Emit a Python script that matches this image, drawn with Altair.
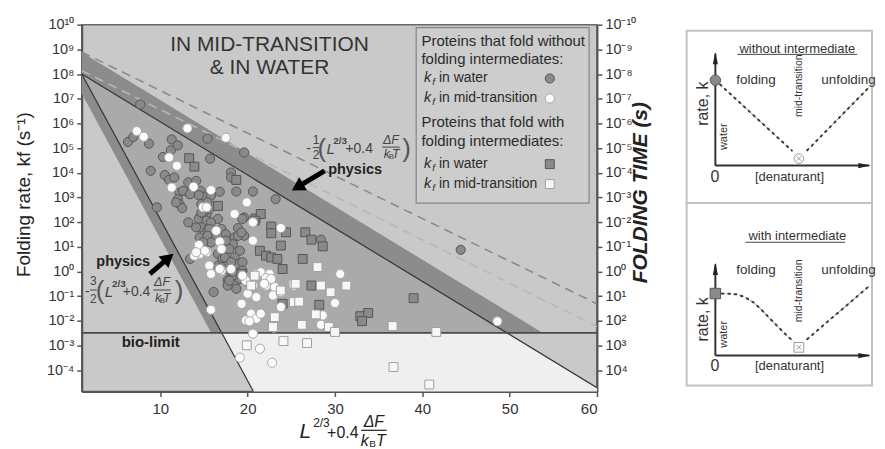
import altair as alt
import pandas as pd

FONT = "Liberation Sans"
INK = "#2b2b2b"

# ------------------------------------------------------------------
# Scatter data: x = L^(2/3) + 0.4*dF/kBT ,  e = log10(kf / s^-1)
# ------------------------------------------------------------------
# k_f in water, no intermediates (grey circles)
gc_x = [7.7, 15.4, 19.6, 6.3, 6.9, 8.7, 11.3, 11.2, 12.0, 10.3, 15.7, 8.9, 10.5, 11.0, 11.6, 13.2, 14.1, 18.1, 18.1, 12.2,
        13.2, 14.6, 15.0, 14.4, 16.8, 18.7, 20.6, 23.2, 12.0, 12.2, 12.5, 15.3, 9.6, 19.6, 14.5, 15.3, 13.2, 14.4, 14.9, 15.3,
        14.7, 15.4, 16.6, 17.0, 16.0, 14.5, 15.1, 14.7, 16.3, 17.5, 18.5, 18.9, 19.4, 19.6, 18.3, 17.9, 19.1, 16.6, 17.1, 18.5,
        18.7, 13.4, 16.6, 17.9, 18.3, 17.7, 18.5, 18.7, 16.1, 17.7, 28.4, 44.4, 17.5, 18.9, 19.3, 17.4, 18.1, 17.0, 19.4, 19.4,
        19.1, 17.9, 20.0, 12.6, 13.4, 15.8, 11.8, 14.7, 15.4, 14.7, 15.6, 15.8, 14.1, 15.6, 15.4, 15.8, 14.9]
gc_e = [6.77, 5.38, 4.82, 5.25, 5.45, 5.18, 5.35, 4.91, 5.11, 4.64, 4.57, 4.08, 3.91, 3.71, 3.81, 3.61, 3.67, 4.01, 3.81, 3.20,
        3.20, 3.27, 3.03, 3.09, 3.23, 3.24, 3.24, 2.93, 2.93, 2.73, 2.57, 2.76, 2.60, 2.19, 2.19, 2.33, 1.99, 2.13, 2.36, 2.06,
        1.79, 1.68, 2.13, 1.72, 1.41, 1.38, 1.18, 0.98, 1.38, 1.51, 1.38, 1.76, 2.13, 1.45, 1.11, 0.91, 0.84, 0.71, 0.51, 0.57,
        0.31, 0.51, 0.24, 0.04, -0.02, -0.36, -0.50, -0.70, -0.83, -0.57, 1.29, 0.88, 1.25, 1.45, 1.58, 0.57, 0.38, 0.18, 0.38, 0.04,
        -0.30, -0.37, -0.43, 3.27, 3.13, 3.07, 2.80, 2.73, 2.80, 2.39, 2.53, 1.99, 1.79, 1.72, 1.45, 1.18, 1.18]
# k_f in mid-transition, no intermediates (white circles)
wc_x = [7.3, 8.1, 13.1, 17.5, 11.0, 11.9, 11.3, 13.8, 15.8, 19.9, 14.9, 18.5, 20.6, 23.8, 20.6, 14.5, 15.3, 13.9, 15.6, 15.8,
        17.0, 19.8, 20.0, 21.0, 19.3, 15.8, 20.4, 19.8, 21.0, 21.5, 23.0, 20.6, 21.4, 19.1, 22.8, 22.1, 23.1, 22.9, 25.2, 23.8,
        20.2, 23.8, 28.4, 29.3, 14.4, 15.1, 14.1, 16.4, 16.8, 17.0, 16.8, 18.1, 19.4, 21.0, 21.5, 22.5, 22.1, 22.7, 21.9, 20.6,
        30.6, 30.0, 48.6, 25.3, 28.6, 15.3]
wc_e = [5.69, 5.46, 5.80, 5.42, 4.62, 4.28, 3.40, 3.43, 3.30, 2.80, 2.60, 2.33, 1.99, 1.76, 1.25, 0.71, 0.78, 0.64, 0.24, -0.10,
        0.04, -0.37, -0.90, -1.04, -1.31, -1.55, -1.71, -1.98, -1.91, -1.71, -2.28, -2.52, -3.13, -3.49, -3.70, -0.57, -0.63, -0.97, -0.50, -1.44,
        -2.02, -0.84, -2.16, -2.21, 1.07, 0.84, 0.78, 1.65, 1.21, 0.91, 0.10, 0.10, -0.17, -0.10, -0.03, -0.10, -0.27, -0.30, -0.50, -0.57,
        -0.10, -1.28, -2.02, -0.57, -1.78, 2.60]
# k_f in water, with intermediates (grey squares)
gs_x = [13.3, 13.9, 18.7, 16.6, 20.9, 21.5, 22.7, 22.7, 24.4, 21.4, 22.1, 23.8, 22.7, 23.4, 24.0, 24.0, 19.3, 20.8, 26.6, 27.3,
        28.6, 26.3, 27.3, 28.2, 39.0, 32.9, 33.8, 33.1]
gs_e = [4.59, 4.25, 3.71, 2.66, 2.15, 2.33, 1.82, 1.55, 1.59, 0.84, 0.64, 1.05, 0.57, 0.51, 0.10, -1.31, -0.10, 2.06, 1.59, 1.29,
        1.02, 0.51, -0.57, -1.35, -1.08, -1.81, -1.68, -2.01]
# k_f in mid-transition, with intermediates (white squares)
ws_x = [20.8, 20.4, 23.8, 25.3, 23.1, 22.9, 19.9, 24.1, 26.8, 26.2, 25.9, 27.8, 28.0, 25.5, 28.4, 31.3, 29.5, 29.3, 30.0, 36.6,
        41.6, 36.7, 40.8]
ws_e = [-0.17, -0.57, -0.77, -1.24, -1.85, -2.25, -2.99, -2.82, -2.90, -2.16, -1.22, -1.74, 0.18, -0.50, -0.57, -0.57, -0.84, -2.25, -2.45, -2.21,
        -2.45, -3.87, -4.58]

# ------------------------------------------------------------------
# Guide lines and shaded zones (x, log10 kf)
# ------------------------------------------------------------------
X_MIN, X_MAX = 1, 60
E_MIN, E_MAX = -4.86, 10
upper_x, upper_e = [1, 60], [8.0, -4.71]          # -1/2(...) line
steep_x, steep_e = [1, 20.66], [8.0, -4.86]        # -3/2(...) line
bio_x, bio_e = [1, 60], [-2.49, -2.49]             # bio-limit
dash1_x, dash1_e = [1, 60], [8.89, -1.31]
dash2_x, dash2_e = [1, 60], [8.14, -2.23]
# zones: vertices x, lower e, upper e
zone_tri = ([1, 17.04, 49.7], [8.0, -2.49, -2.49], [8.0, 4.55, -2.49])
zone_low = ([17.04, 20.66, 49.7, 60], [-2.49, -4.86, -4.86, -4.86], [-2.49, -2.49, -2.49, -4.71])
zone_ub = ([1, 49.7, 53.8], [8.0, -2.49, -2.49], [8.88, -1.61, -2.49])
zone_sb = ([1, 15.83, 17.04], [7.21, -2.49, -2.49], [8.0, -1.70, -2.49])

# ------------------------------------------------------------------
xs = alt.Scale(domain=[X_MIN, X_MAX], nice=False, zero=False)
ys = alt.Scale(type="log", domain=[10 ** E_MIN, 10 ** E_MAX], nice=False)

SUP = "['⁰','¹','²','³','⁴','⁵','⁶','⁷','⁸','⁹']"


def pow_label(ex):
    return ("'10' + ((" + ex + ") < 0 ? '⁻' : '') + (abs(" + ex + ") >= 10 ? '¹' + " + SUP +
            "[abs(" + ex + ") - 10] : " + SUP + "[abs(" + ex + ")])")


EXP = "round(log(datum.value) / LN10)"
y_ticks = [10.0 ** i for i in range(-4, 11)]
common = dict(domainColor="#555", domainWidth=2, tickColor="#555", tickWidth=1.5, tickSize=5,
              labelFont=FONT, labelColor="#333", grid=False, titleFont=FONT, titleColor="#222")
left_axis = alt.Axis(values=y_ticks, labelExpr=pow_label(EXP), labelFontSize=14.5, labelPadding=3,
                     title="Folding rate, kf (s⁻¹)", titleFontSize=19, titleFontWeight="normal",
                     titlePadding=13, titleY=170, **common)
right_axis = alt.Axis(orient="right", values=y_ticks, labelExpr=pow_label("-" + EXP), labelFontSize=14.5,
                      labelPadding=3, title="FOLDING TIME (s)", titleFontSize=21, titleFontWeight="bold",
                      titleFontStyle="italic", titleAngle=270, titlePadding=15, titleY=168, **common)
x_axis = alt.Axis(values=[10, 20, 30, 40, 50, 60], labelFontSize=15, labelPadding=5, title=None, **common)

X = alt.X("x:Q", scale=xs, axis=x_axis)
YN = alt.Y("y:Q", scale=ys, axis=None)
YL = alt.Y("y:Q", scale=ys, axis=left_axis)
YR = alt.Y("y:Q", scale=ys, axis=right_axis)


def kdf(vx, ve):
    return pd.DataFrame({"x": vx, "y": [10 ** v for v in ve]})


def zdf(vx, lo, hi):
    return pd.DataFrame({"x": vx, "y": [10 ** v for v in lo], "y2": [10 ** v for v in hi]})


layers = []
layers.append(alt.Chart(zdf(*zone_tri)).mark_area(orient="vertical", color="#aaaaaa").encode(x=X, y=YL, y2="y2:Q"))
for z, col in [(zone_low, "#efefef"), (zone_ub, "#8c8c8c"), (zone_sb, "#8c8c8c")]:
    layers.append(alt.Chart(zdf(*z)).mark_area(orient="vertical", color=col).encode(x=X, y=YN, y2="y2:Q"))

layers.append(alt.Chart(kdf(dash1_x, dash1_e)).mark_line(color="#8a8a8a", strokeWidth=1.6, strokeDash=[9, 6], clip=True).encode(x=X, y=YN))
layers.append(alt.Chart(kdf(dash2_x, dash2_e)).mark_line(color="#b7b7b7", strokeWidth=1.6, strokeDash=[9, 6], clip=True).encode(x=X, y=YN))
layers.append(alt.Chart(kdf(upper_x, upper_e)).mark_line(color="#333", strokeWidth=1.2, clip=True).encode(x=X, y=YN))
layers.append(alt.Chart(kdf(steep_x, steep_e)).mark_line(color="#333", strokeWidth=1.2, clip=True).encode(x=X, y=YN))
layers.append(alt.Chart(kdf(bio_x, bio_e)).mark_line(color="#4a4a4a", strokeWidth=1.8, clip=True).encode(x=X, y=YN))

# legend frame
leg_box = pd.DataFrame({"x": [39.3], "x2": [59.1], "y": [10 ** 2.77], "y2": [10 ** 9.88]})
layers.append(alt.Chart(leg_box).mark_rect(fill="#cdcdcd", stroke="#858585", strokeWidth=1.2).encode(x=X, x2="x2:Q", y=YN, y2="y2:Q"))

STYLE = {
    "gc": dict(shape="circle", size=85, fill="#8a8a8a", stroke="#565656"),
    "gs": dict(shape="square", size=80, fill="#8a8a8a", stroke="#565656"),
    "wc": dict(shape="circle", size=85, fill="#fbfbfb", stroke="#a9a9a9"),
    "ws": dict(shape="square", size=80, fill="#f7f7f7", stroke="#a0a0a0"),
}


def pts(df, key):
    st = STYLE[key]
    return alt.Chart(df).mark_point(filled=True, opacity=1, strokeWidth=1, **st).encode(x=X, y=YN)


layers += [pts(kdf(gc_x, gc_e), "gc"), pts(kdf(gs_x, gs_e), "gs"), pts(kdf(wc_x, wc_e), "wc"), pts(kdf(ws_x, ws_e), "ws")]

# legend symbols
LEG_SYM_X = 54.6
layers += [pts(kdf([LEG_SYM_X], [7.82]), "gc"), pts(kdf([LEG_SYM_X], [7.01]), "wc"),
           pts(kdf([LEG_SYM_X], [4.35]), "gs"), pts(kdf([LEG_SYM_X], [3.54]), "ws")]


def tdf(rows):
    return pd.DataFrame([{"x": r[0], "y": 10 ** r[1], "t": r[2]} for r in rows])


def texts(rows, **kw):
    base = dict(font=FONT, color=INK, align="center", baseline="middle", fontSize=14)
    base.update(kw)
    return alt.Chart(tdf(rows)).mark_text(**base).encode(x=X, y=YN, text="t:N")


# headline
layers.append(texts([(22.5, 9.19, "IN MID-TRANSITION"), (22.5, 8.26, "& IN WATER")], fontSize=21, color="#333"))
# legend texts
layers.append(texts([(39.9, 9.35, "Proteins that fold without"), (39.9, 8.59, "folding intermediates:"),
                     (39.9, 6.04, "Proteins that fold with"), (39.9, 5.27, "folding intermediates:")],
                    align="left", fontSize=15))
leg_e = [7.82, 7.01, 4.35, 3.54]
layers.append(texts([(40.6, e, "k") for e in leg_e], fontSize=14.5, fontStyle="italic"))
layers.append(texts([(41.3, e, "f") for e in leg_e], fontSize=10, fontStyle="italic", dy=4))
layers.append(texts([(41.9, leg_e[0], "in water"), (41.9, leg_e[1], "in mid-transition"),
                     (41.9, leg_e[2], "in water"), (41.9, leg_e[3], "in mid-transition")], align="left", fontSize=14))
# bold labels
layers.append(texts([(32.3, 4.12, "physics"), (5.75, 0.38, "physics")], fontSize=14.5, fontWeight="bold", color="#222"))
layers.append(texts([(8.9, -2.86, "bio-limit")], fontSize=15, fontWeight="bold", color="#222"))
# formulas  -1/2(...)  and  -3/2(...)
layers.append(texts([(26.98, 4.97, "-"), (32.77, 4.97, "+0.4"), (1.64, -0.84, "-"), (7.28, -0.82, "+0.4")], fontSize=14, color="#444"))
layers.append(texts([(27.83, 5.32, "1"), (27.83, 4.72, "2"), (2.32, -0.39, "3"), (2.32, -1.11, "2")], fontSize=12, color="#444"))
layers.append(texts([(28.5, 4.97, "("), (38.2, 4.97, ")"), (3.1, -0.78, "("), (12.15, -0.78, ")")], fontSize=26, color="#555", fontWeight="lighter"))
layers.append(texts([(29.5, 4.97, "L"), (4.1, -0.84, "L")], fontSize=15, fontStyle="italic", color="#444"))
layers.append(texts([(30.6, 5.3, "2/3"), (5.25, -0.5, "2/3")], fontSize=10, fontWeight="bold", color="#444"))
layers.append(texts([(36.4, 5.32, "ΔF"), (10.2, -0.43, "ΔF")], fontSize=12.5, fontStyle="italic", color="#444"))
layers.append(texts([(35.95, 4.76, "k"), (36.95, 4.76, "T"), (9.75, -1.07, "k"), (10.75, -1.07, "T")], fontSize=12.5, fontStyle="italic", color="#444"))
layers.append(texts([(36.45, 4.76, "B"), (10.25, -1.07, "B")], fontSize=8, color="#444", dy=3))
frac_bars = pd.DataFrame({"x": [27.45, 35.4, 1.95, 9.2], "x2": [28.2, 37.4, 2.7, 11.2],
                          "y": [10 ** 5.02, 10 ** 5.04, 10 ** -0.75, 10 ** -0.75]})
layers.append(alt.Chart(frac_bars).mark_rule(color="#444", strokeWidth=1).encode(x=X, x2="x2:Q", y=YN))

# arrows
arr = pd.DataFrame({"x": [28.8, 8.8], "y": [10 ** 4.08, 10 ** -0.10], "x2": [25.7, 10.93], "y2": [10 ** 3.42, 10 ** 0.55],
                    "a": [239, 49]})
layers.append(alt.Chart(arr).mark_rule(color="black", strokeWidth=5).encode(x=X, y=YN, x2="x2:Q", y2="y2:Q"))
layers.append(alt.Chart(arr).mark_point(shape="triangle-up", filled=True, color="black", size=230, opacity=1)
              .encode(x=alt.X("x2:Q", scale=xs, axis=x_axis), y=alt.Y("y2:Q", scale=ys, axis=None),
                      angle=alt.Angle("a:Q", scale=None)))


# x-axis title built from text pieces (below plot)
def xt(rows, **kw):
    base = dict(font=FONT, color="#222", align="center", baseline="middle")
    base.update(kw)
    df = pd.DataFrame([{"x": r[0], "t": r[2]} for r in rows])
    return alt.Chart(df).mark_text(y=rows[0][1], **base).encode(x=X, text="t:N")


layers.append(xt([(26.6, 409, "L")], fontSize=21, fontStyle="italic"))
layers.append(xt([(28.45, 400, "2/3")], fontSize=12))
layers.append(xt([(30.9, 410, "+0.4")], fontSize=16))
layers.append(xt([(34.45, 399, "ΔF")], fontSize=16, fontStyle="italic"))
layers.append(xt([(33.4, 418, "k"), (35.25, 418, "T")], fontSize=16, fontStyle="italic"))
layers.append(xt([(34.3, 421, "B")], fontSize=10))
xbar = pd.DataFrame({"x": [33.0], "x2": [35.9]})
layers.append(alt.Chart(xbar).mark_rule(color="#222", strokeWidth=1.2, y=407).encode(x=X, x2="x2:Q"))

# right axis carrier (folding time = 1/kf)
layers.append(alt.Chart(kdf([30], [0])).mark_point(opacity=0).encode(x=X, y=YR))

main = alt.layer(*layers).resolve_axis(y="independent").properties(
    width=517, height=368, view=alt.ViewBackground(fill="#c9c9c9", stroke="#6a6a6a", strokeWidth=1.5))

# ------------------------------------------------------------------
# Schematic insets
# ------------------------------------------------------------------
IW = 186
ixs = alt.Scale(domain=[-18, 98.25], nice=False, zero=False)

ins1 = dict(h=173, ydom=[-25, 90], title="without intermediate", title_y=78, ul=(13.9, 88.9, 74.2), tip=74.7,
            left_x=[0, 48], left_y=[57, 10], right_x=[57.6, 96.5], right_y=[10.2, 52.4],
            start_y=57, shape="circle", min_y=4.7, fold_y=56.9, mid_y=53.3, water_y=19.3, rate_y=41.3, zero_y=-7.5)
ins2 = dict(h=183, ydom=[-20, 102], title="with intermediate", title_y=79.8, ul=(18.9, 81.4, 75.8), tip=61,
            left_x=[0, 8, 13.9, 19, 24.3, 29.5, 34.7, 40, 45.1, 49], left_y=[41.5, 41.4, 40.9, 38.8, 35.3, 30, 24.2, 18.5, 13.1, 9.5],
            right_x=[57.6, 96.5], right_y=[11, 46.5],
            start_y=41.5, shape="square", min_y=5.5, fold_y=57.5, mid_y=43.3, water_y=14.2, rate_y=24.2, zero_y=-6.9)


def inset(p):
    iys = alt.Scale(domain=p["ydom"], nice=False, zero=False)
    IX = alt.X("x:Q", scale=ixs, axis=None)
    IY = alt.Y("y:Q", scale=iys, axis=None)
    L = []
    ax = pd.DataFrame({"x": [0, 0], "x2": [0, 96.5], "y": [0, 0], "y2": [p["tip"], 0]})
    L.append(alt.Chart(ax).mark_rule(color="#333", strokeWidth=2).encode(x=IX, x2="x2:Q", y=IY, y2="y2:Q"))
    heads = pd.DataFrame({"x": [0, 93.5], "y": [p["tip"] - 3, 0], "a": [0, 90]})
    L.append(alt.Chart(heads).mark_point(shape="M0,-1L0.42,1L-0.42,1Z", filled=True, color="#222", size=150, opacity=1)
             .encode(x=IX, y=IY, angle=alt.Angle("a:Q", scale=None)))
    cv = pd.DataFrame({"x": p["left_x"] + p["right_x"], "y": p["left_y"] + p["right_y"],
                       "b": ["l"] * len(p["left_x"]) + ["r"] * len(p["right_x"])})
    L.append(alt.Chart(cv).mark_line(color="#9a9a9a", strokeWidth=1, strokeDash=[4, 2]).encode(x=IX, y=IY, detail="b:N"))
    L.append(alt.Chart(cv).mark_line(color="#3a3a3a", strokeWidth=2, strokeDash=[1.5, 5], strokeCap="round").encode(x=IX, y=IY, detail="b:N"))
    L.append(alt.Chart(pd.DataFrame({"x": [0], "y": [p["start_y"]]})).mark_point(
        shape=p["shape"], filled=True, fill="#8a8a8a", stroke="#555", strokeWidth=1, size=110, opacity=1).encode(x=IX, y=IY))
    L.append(alt.Chart(pd.DataFrame({"x": [52.4], "y": [p["min_y"]]})).mark_point(
        shape=p["shape"], filled=True, fill="#ffffff", stroke="#9a9a9a", strokeWidth=1, size=95, opacity=1).encode(x=IX, y=IY))
    L.append(alt.Chart(pd.DataFrame({"x": [52.4], "y": [p["min_y"]]})).mark_point(
        shape="M-1,-1L1,1M1,-1L-1,1", filled=False, color="#9a9a9a", strokeWidth=1, size=22, opacity=1).encode(x=IX, y=IY))
    ul = pd.DataFrame({"x": [p["ul"][0]], "x2": [p["ul"][1]], "y": [p["ul"][2]]})
    L.append(alt.Chart(ul).mark_rule(color="#444", strokeWidth=1).encode(x=IX, x2="x2:Q", y=IY))

    def itext(rows, **kw):
        base = dict(font=FONT, color="#333", align="center", baseline="middle")
        base.update(kw)
        df = pd.DataFrame([{"x": r[0], "y": r[1], "t": r[2]} for r in rows])
        return alt.Chart(df).mark_text(**base).encode(x=IX, y=IY, text="t:N")

    L.append(itext([(51.4, p["title_y"], p["title"])], fontSize=13))
    L.append(itext([(25.5, p["fold_y"], "folding"), (83.5, p["fold_y"], "unfolding")], fontSize=13.5))
    L.append(itext([(52.4, p["mid_y"], "mid-transition")], fontSize=10.5, angle=270))
    L.append(itext([(5.3, p["water_y"], "water")], fontSize=11, angle=270))
    L.append(itext([(-8.0, p["rate_y"], "rate, k")], fontSize=16, angle=270))
    L.append(itext([(-0.3, p["zero_y"], "0")], fontSize=16))
    L.append(itext([(46.5, p["zero_y"], "[denaturant]")], fontSize=13))
    return alt.layer(*L).properties(width=IW, height=p["h"],
                                    view=alt.ViewBackground(fill="white", stroke="#c2c2c2", strokeWidth=2))


spacer = alt.Chart(pd.DataFrame({"x": [0], "y": [0]})).mark_point(opacity=0).encode(
    x=alt.X("x:Q", axis=None), y=alt.Y("y:Q", axis=None)).properties(
    width=IW, height=6, view=alt.ViewBackground(stroke="transparent"))

right_col = alt.vconcat(spacer, inset(ins1), inset(ins2), spacing=0, bounds="flush")

chart = alt.hconcat(main, right_col, spacing=90, bounds="flush").properties(
    padding={"left": 5, "top": 7, "right": 0, "bottom": 0}, background="white")

chart.save("out.html", embed_options={"renderer": "svg", "actions": False})
